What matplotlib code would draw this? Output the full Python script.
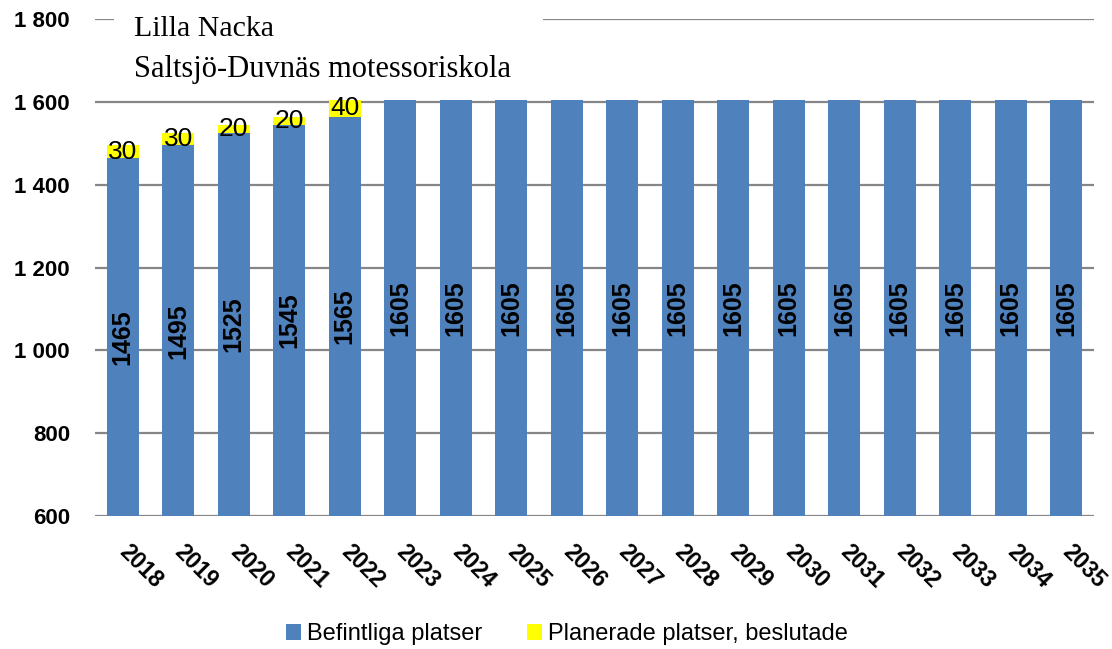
import matplotlib
matplotlib.use("Agg")
import matplotlib.pyplot as plt
from matplotlib.patches import Rectangle
from matplotlib.ticker import FuncFormatter

years = ["2018", "2019", "2020", "2021", "2022", "2023", "2024", "2025", "2026",
         "2027", "2028", "2029", "2030", "2031", "2032", "2033", "2034", "2035"]
befintliga = [1465, 1495, 1525, 1545, 1565, 1605, 1605, 1605, 1605,
              1605, 1605, 1605, 1605, 1605, 1605, 1605, 1605, 1605]
planerade = [30, 30, 20, 20, 40, 0, 0, 0, 0,
             0, 0, 0, 0, 0, 0, 0, 0, 0]
yticks = [600, 800, 1000, 1200, 1400, 1600, 1800]

BLUE = "#4F81BD"
YELLOW = "#FFFF00"
GRID = "#868686"
SANS = ["Liberation Sans", "DejaVu Sans"]

plt.rcParams["font.family"] = SANS

fig = plt.figure(figsize=(11.12, 6.49), dpi=100)
ax = fig.add_axes([0.0854, 0.2049, 0.8984, 0.7655])

x = list(range(len(years)))
ymin = yticks[0]
ax.bar(x, befintliga, width=0.57, color=BLUE, zorder=2, label="Befintliga platser")
ax.bar(x, planerade, width=0.57, bottom=befintliga, color=YELLOW, zorder=2,
       label="Planerade platser, beslutade")

# value labels
for i, (b, p) in enumerate(zip(befintliga, planerade)):
    ax.text(i, (ymin + b) / 2, str(b), rotation=90, ha="center", va="center",
            fontsize=18, fontweight="bold", color="black", zorder=3)
    if p > 0:
        ax.text(i, b + p / 2, str(p), ha="center", va="center",
                fontsize=19, color="black", zorder=3)

ax.set_xlim(-0.5, len(years) - 0.5)
ax.set_ylim(yticks[0], yticks[-1])
ax.set_yticks(yticks)
ax.yaxis.set_major_formatter(FuncFormatter(lambda v, pos: f"{v:,.0f}".replace(",", " ")))
ax.set_xticks(x)
ax.set_xticklabels(years)

for s in ax.spines.values():
    s.set_visible(False)
ax.yaxis.grid(True, color=GRID, linewidth=1.6)
ax.set_axisbelow(True)

ax.tick_params(axis="y", length=0, pad=18, labelsize=16)
ax.tick_params(axis="x", length=0, pad=23, labelsize=16.5)
for lab in ax.get_yticklabels():
    lab.set_fontweight("bold")
for lab in ax.get_xticklabels():
    lab.set_fontweight("bold")
    lab.set_rotation(-45)
    lab.set_ha("left")
    lab.set_va("center")
    lab.set_rotation_mode("anchor")

# white box hiding the top gridline behind the title text
W, H = 1112.0, 649.0
ax.add_patch(Rectangle((114 / W, 1 - 30 / H), (543 - 114) / W, 22 / H,
                       transform=fig.transFigure, facecolor="white",
                       edgecolor="none", zorder=5, clip_on=False))
serif = ["Liberation Serif", "DejaVu Serif"]
fig.text(134 / W, 1 - 36 / H, "Lilla Nacka", family=serif, fontsize=21.5,
         va="baseline", ha="left", zorder=6)
fig.text(134 / W, 1 - 77 / H, "Saltsjö-Duvnäs motessoriskola", family=serif,
         fontsize=22, va="baseline", ha="left", zorder=6)

fig.legend(loc="center", bbox_to_anchor=(0.51, 1 - 634 / H), ncol=2,
           frameon=False, fontsize=17, handlelength=0.64, handleheight=0.64,
           handletextpad=0.25, columnspacing=1.9)

fig.savefig("out.png", dpi=100)
